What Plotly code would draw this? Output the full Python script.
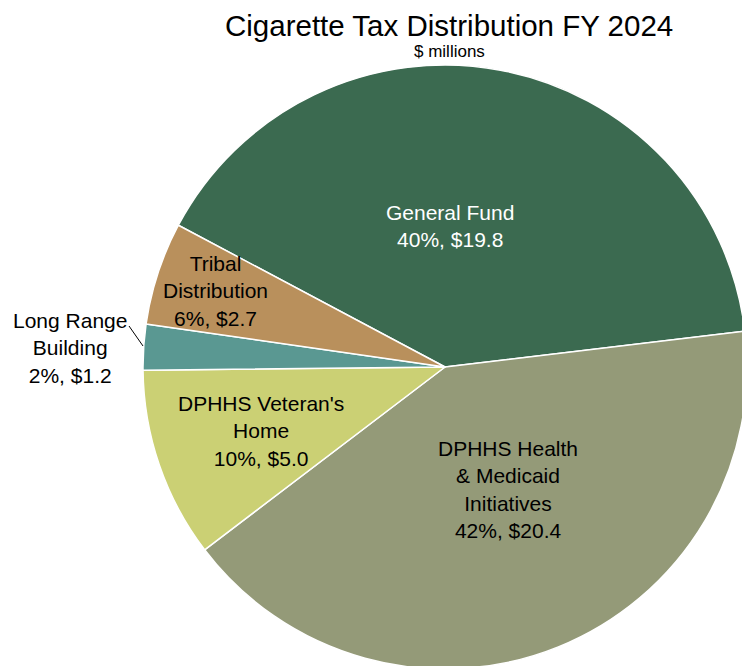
import plotly.graph_objects as go

# ---- data ----
categories = ["General Fund", "DPHHS Health & Medicaid Initiatives", "DPHHS Veteran's Home",
              "Long Range Building", "Tribal Distribution"]
label_lines = [["General Fund"], ["DPHHS Health", "& Medicaid", "Initiatives"],
               ["DPHHS Veteran's", "Home"], ["Long Range", "Building"], ["Tribal", "Distribution"]]
values = [19.8, 20.4, 5.0, 1.2, 2.7]
percents = [40, 42, 10, 2, 6]
colors = ["#3b6a50", "#949a78", "#cbd074", "#5a9892", "#b9905c"]
label_colors = ["white", "black", "black", "black", "black"]

# figure is a bit larger than the window so the pie bleeds off the right/bottom edges
W, H = 760, 682
ML, MT = 143, 65
D = 604
MR, MB = W - ML - D, H - MT - D
PW, PH = D, D

def px2paper(x, y):
    return (x - ML) / PW, 1 - (y - MT) / PH

FONT = "Liberation Sans, Arial, sans-serif"

fig = go.Figure(go.Pie(
    labels=categories, values=values, sort=False, direction="clockwise", rotation=-62,
    marker=dict(colors=colors, line=dict(color="white", width=1.5)),
    textinfo="none", hoverinfo="label+value+percent", showlegend=False,
))

label_pos = [(450, 226), (508, 489), (261, 431), (70, 348), (215, 291)]
for lines, v, p, c, (lx, ly) in zip(label_lines, values, percents, label_colors, label_pos):
    txt = "<br>".join(lines + [f"{p}%, ${v:.1f}"])
    xp, yp = px2paper(lx, ly)
    fig.add_annotation(x=xp, y=yp, xref="paper", yref="paper", text=txt, showarrow=False,
                       xanchor="center", yanchor="middle", align="center",
                       font=dict(family=FONT, size=21, color=c))

# leader line for Long Range Building
x0, y0 = px2paper(129, 326)
x1, y1 = px2paper(143, 346)
fig.add_shape(type="line", xref="paper", yref="paper", x0=x0, y0=y0, x1=x1, y1=y1,
              line=dict(color="black", width=1))

tx, ty = px2paper(449, 25)
fig.add_annotation(x=tx, y=ty, xref="paper", yref="paper", text="Cigarette Tax Distribution FY 2024",
                   showarrow=False, xanchor="center", yanchor="middle",
                   font=dict(family=FONT, size=29.5, color="black"))
sx, sy = px2paper(449, 51)
fig.add_annotation(x=sx, y=sy, xref="paper", yref="paper", text="$ millions",
                   showarrow=False, xanchor="center", yanchor="middle",
                   font=dict(family=FONT, size=17, color="black"))

fig.update_layout(width=W, height=H, margin=dict(l=ML, r=MR, t=MT, b=MB, pad=0),
                  paper_bgcolor="white", plot_bgcolor="white")

fig.write_html("out.html", config=dict(displayModeBar=False),
               post_script="document.body.style.margin='0';"
                           "document.body.style.overflow='hidden';"
                           "document.documentElement.style.overflow='hidden';")
